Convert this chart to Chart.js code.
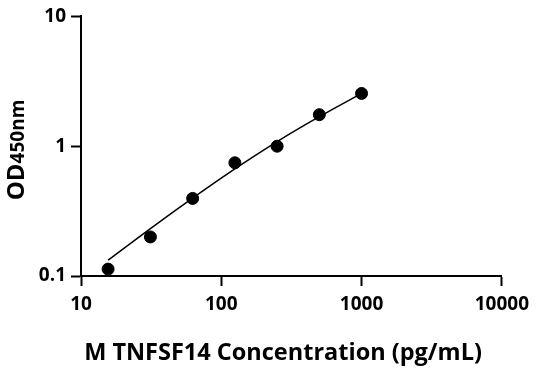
<!DOCTYPE html>
<html>
<head>
<meta charset="utf-8">
<script src="https://cdn.jsdelivr.net/npm/chart.js@4"></script>
<style>
  html, body { margin: 0; padding: 0; background: #fff; }
  #wrap { width: 536px; height: 371px; }
</style>
</head>
<body>
<div id="wrap"><canvas id="myChart"></canvas></div>
<script>
// standards (pg/mL) and measured OD
const concentrations = [15.6, 31.25, 62.5, 125, 250, 500, 1000];
const odValues = [0.113, 0.2, 0.396, 0.745, 1.0, 1.75, 2.55];
// fitted curve
const fitConc = [15.6, 31.25, 62.5, 125, 250, 500, 1000];
const fitOd = [0.1324, 0.232, 0.398, 0.668, 1.084, 1.687, 2.553];
const xTicks = [10, 100, 1000, 10000];
const yTicks = [0.1, 1, 10];

const FONT = "'Open Sans', sans-serif";

const titles = {
  id: 'titles',
  afterDraw(chart) {
    const c = chart.ctx;
    c.save();
    c.fillStyle = '#000';
    // x title
    c.font = 'bold 23.5px ' + FONT;
    c.textAlign = 'center';
    c.textBaseline = 'alphabetic';
    c.fillText('M TNFSF14 Concentration (pg/mL)', 283, 360);
    // y title: OD + smaller 450nm, same baseline
    c.translate(24, 150);
    c.rotate(-Math.PI / 2);
    c.textAlign = 'left';
    c.font = 'bold 24px ' + FONT;
    const w1 = c.measureText('OD').width;
    c.font = 'bold 19px ' + FONT;
    const w2 = c.measureText('450nm').width;
    const x0 = -(w1 + w2) / 2;
    c.font = 'bold 24px ' + FONT;
    c.fillText('OD', x0, 0);
    c.font = 'bold 19px ' + FONT;
    c.fillText('450nm', x0 + w1, 0);
    c.restore();
  }
};

const pts = (xs, ys) => xs.map((x, i) => ({ x: x, y: ys[i] }));

new Chart(document.getElementById('myChart'), {
  type: 'scatter',
  data: {
    datasets: [
      {
        data: pts(concentrations, odValues),
        backgroundColor: '#000',
        borderColor: '#000',
        pointRadius: 6,
        pointHoverRadius: 6,
        showLine: false
      },
      {
        data: pts(fitConc, fitOd),
        borderColor: '#000',
        borderWidth: 1.5,
        pointRadius: 0,
        showLine: true,
        cubicInterpolationMode: 'monotone'
      }
    ]
  },
  options: {
    responsive: true,
    maintainAspectRatio: false,
    animation: false,
    layout: { padding: { top: 14, right: 34, left: 0, bottom: 0 } },
    plugins: {
      legend: { display: false },
      tooltip: { enabled: false }
    },
    scales: {
      x: {
        type: 'logarithmic',
        min: 10,
        max: 10000,
        afterBuildTicks: s => { s.ticks = xTicks.map(v => ({ value: v })); },
        afterFit: s => { s.height = 95; },
        border: { color: '#000', width: 2 },
        grid: { drawOnChartArea: false, color: '#000', tickLength: 10, tickWidth: 2 },
        ticks: {
          color: '#000',
          font: { family: FONT, size: 19, weight: 'bold' },
          padding: 7,
          maxRotation: 0,
          callback: v => String(v)
        }
      },
      y: {
        type: 'logarithmic',
        min: 0.1,
        max: 10,
        afterBuildTicks: s => { s.ticks = yTicks.map(v => ({ value: v })); },
        afterFit: s => { s.width = 81; },
        border: { color: '#000', width: 2 },
        grid: { drawOnChartArea: false, color: '#000', tickLength: 10, tickWidth: 2 },
        ticks: {
          color: '#000',
          font: { family: FONT, size: 19, weight: 'bold' },
          padding: 5,
          callback: v => String(v)
        }
      }
    }
  },
  plugins: [titles]
});
</script>
</body>
</html>
